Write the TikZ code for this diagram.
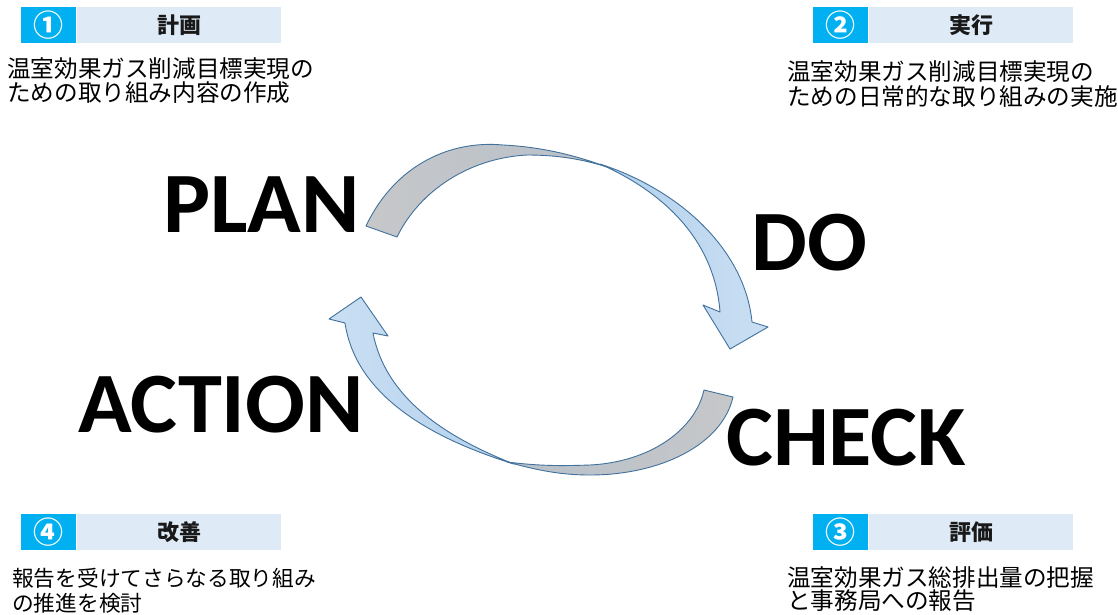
\documentclass[tikz,border=0pt]{standalone}
\usepackage{fontspec}
\setmainfont{Carlito}
\newfontfamily\cjk{Noto Sans CJK JP}
\definecolor{numblue}{HTML}{00B0F0}
\definecolor{titlebg}{HTML}{DEEBF7}
\definecolor{arrowedge}{HTML}{41719C}
\definecolor{blueA}{HTML}{B2D0EC}
\definecolor{blueB}{HTML}{CADFF3}
\definecolor{grayA}{HTML}{C6C7C9}
\definecolor{grayB}{HTML}{B7C0C9}
\tikzset{
  numbox/.style={fill=numblue, minimum width=55pt, minimum height=36pt, inner sep=0pt, anchor=north west},
  titlebox/.style={fill=titlebg, minimum width=204pt, minimum height=36pt, inner sep=0pt, anchor=north west},
  numtext/.style={text=white, inner sep=0pt, font=\cjk\bfseries\fontsize{30}{30}\selectfont},
  titletext/.style={text=black!90, inner sep=0pt, font=\cjk\bfseries\fontsize{22}{22}\selectfont},
  bodytext/.style={inner sep=0pt, anchor=base west, font=\cjk\fontsize{23.6}{25}\selectfont},
  bodysmall/.style={inner sep=0pt, anchor=base west, font=\cjk\fontsize{21.7}{25}\selectfont},
  bigword/.style={inner sep=0pt, anchor=base west, font=\bfseries\fontsize{86}{90}\selectfont},
  arrowline/.style={draw=arrowedge, line width=0.9pt, line join=round},
}
\newcommand{\widen}[1]{\scalebox{1.03}[1]{#1}}
\begin{document}
\begin{tikzpicture}[x=1pt,y=-1pt]
\useasboundingbox (0,0) rectangle (1118,614);
\fill[white] (0,0) rectangle (1118,614);

% ---- headers ----
\node[numbox] (n1) at (21,7) {};
\node[titlebox] (h1) at (77,7) {};
\node[numtext] (n1t) at (n1.center) {①};
\node[titletext] (h1t) at (h1.center) {計画};

\node[numbox] (n2) at (813,7) {};
\node[titlebox] (h2) at (869,7) {};
\node[numtext] (n2t) at (n2.center) {②};
\node[titletext] (h2t) at (h2.center) {実行};

\node[numbox] (n4) at (21,514) {};
\node[titlebox] (h4) at (77,514) {};
\node[numtext] (n4t) at (n4.center) {④};
\node[titletext] (h4t) at (h4.center) {改善};

\node[numbox] (n3) at (813,514) {};
\node[titlebox] (h3) at (869,514) {};
\node[numtext] (n3t) at (n3.center) {③};
\node[titletext] (h3t) at (h3.center) {評価};

% ---- descriptions ----
\node[bodytext] (d1a) at (7,77) {温室効果ガス削減目標実現の};
\node[bodytext] (d1b) at (7,101) {ための取り組み内容の作成};
\node[bodytext] (d2a) at (787,80) {温室効果ガス削減目標実現の};
\node[bodytext] (d2b) at (787,105) {ための日常的な取り組みの実施};
\node[bodysmall] (d4a) at (12,586) {報告を受けてさらなる取り組み};
\node[bodysmall] (d4b) at (12,611) {の推進を検討};
\node[bodytext] (d3a) at (787,586) {温室効果ガス総排出量の把握};
\node[bodytext] (d3b) at (787,609) {と事務局への報告};

% ---- big words ----
\node[bigword] (plan) at (163,232) {\widen{PLAN}};
\node[bigword] (do) at (751,270) {\widen{DO}};
\node[bigword] (action) at (78,432) {\widen{ACTION}};
\node[bigword] (check) at (726,465) {\widen{CHECK}};

% ---- top arrow (PLAN -> DO) ----
\path[arrowline, left color=grayA, right color=grayB]
  (366,226) .. controls (395,165) and (450,140) .. (503,145)
  .. controls (545,147) and (580,157) .. (607,167)
  .. controls (585,160) and (560,155) .. (527,155)
  .. controls (470,158) and (420,190) .. (397,237) -- cycle;
\path[arrowline, left color=blueA, right color=blueB]
  (600,164) .. controls (680,190) and (745,250) .. (752,322)
  -- (768,327) -- (730,349) -- (703,305) -- (720,312)
  .. controls (715,245) and (670,195) .. (600,164) -- cycle;

% ---- bottom arrow (CHECK -> ACTION) ----
\path[arrowline, left color=grayB, right color=grayA]
  (733,397) .. controls (722,445) and (660,475) .. (590,475)
  .. controls (555,475) and (530,468) .. (507,462)
  .. controls (540,466) and (560,466) .. (590,465)
  .. controls (650,462) and (695,430) .. (704,390) -- cycle;
\path[arrowline, left color=blueB, right color=blueA]
  (514,464) .. controls (420,435) and (355,390) .. (345,323)
  -- (329,319) -- (361,297) -- (388,336) -- (373,333)
  .. controls (385,395) and (440,435) .. (514,464) -- cycle;
\end{tikzpicture}
\end{document}
